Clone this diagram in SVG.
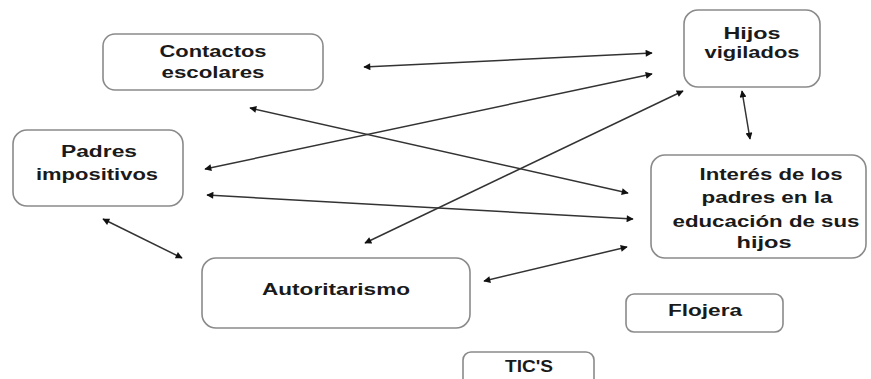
<svg xmlns="http://www.w3.org/2000/svg" width="871" height="379" viewBox="0 0 871 379">
<defs>
<style>
.box{fill:#fff;stroke:#8a8a8a;stroke-width:1.6}
.lbl{font-family:"Liberation Sans",Arial,sans-serif;font-weight:bold;font-size:16px;fill:#1a1a1a;text-anchor:middle}
.con{stroke:#333;stroke-width:1.5;fill:none;marker-start:url(#ah);marker-end:url(#ah)}
</style>
<marker id="ah" viewBox="0 0 10 10" refX="9" refY="5" markerWidth="8" markerHeight="7" markerUnits="userSpaceOnUse" orient="auto-start-reverse">
<path d="M0,0 L10,5 L0,10 z" fill="#111"/>
</marker>
</defs>
<rect width="871" height="379" fill="#fff"/>
<g id="connectors">
<line class="con" x1="364" y1="67" x2="652" y2="53"/>
<line class="con" x1="205" y1="169" x2="652" y2="74"/>
<line class="con" x1="250" y1="108" x2="628" y2="193"/>
<line class="con" x1="207" y1="195" x2="633" y2="219"/>
<line class="con" x1="742" y1="91" x2="750" y2="139"/>
<line class="con" x1="103" y1="219" x2="182" y2="258"/>
<line class="con" x1="365" y1="243" x2="683" y2="91"/>
<line class="con" x1="484" y1="281" x2="627" y2="247"/>
</g>
<g id="contactos">
<rect class="box" x="103" y="34" width="220" height="56" rx="12"/>
<text class="lbl" x="213" y="57" textLength="107" lengthAdjust="spacingAndGlyphs">Contactos</text>
<text class="lbl" x="213" y="78" textLength="103" lengthAdjust="spacingAndGlyphs">escolares</text>
</g>
<g id="hijos">
<rect class="box" x="684" y="10" width="136" height="77" rx="14"/>
<text class="lbl" x="752" y="39" textLength="57" lengthAdjust="spacingAndGlyphs">Hijos</text>
<text class="lbl" x="752" y="58" textLength="95" lengthAdjust="spacingAndGlyphs">vigilados</text>
</g>
<g id="padres">
<rect class="box" x="13" y="130" width="170" height="76" rx="14"/>
<text class="lbl" x="99" y="157" textLength="76" lengthAdjust="spacingAndGlyphs">Padres</text>
<text class="lbl" x="97" y="180" textLength="122" lengthAdjust="spacingAndGlyphs">impositivos</text>
</g>
<g id="interes">
<rect class="box" x="651" y="155" width="215" height="103" rx="14"/>
<text class="lbl" x="771" y="180" textLength="143" lengthAdjust="spacingAndGlyphs">Interés de los</text>
<text class="lbl" x="767" y="203" textLength="131" lengthAdjust="spacingAndGlyphs">padres en la</text>
<text class="lbl" x="766" y="227" textLength="187" lengthAdjust="spacingAndGlyphs">educación de sus</text>
<text class="lbl" x="764" y="248" textLength="55" lengthAdjust="spacingAndGlyphs">hijos</text>
</g>
<g id="autoritarismo">
<rect class="box" x="202" y="258" width="268" height="70" rx="14"/>
<text class="lbl" x="336" y="295" textLength="148" lengthAdjust="spacingAndGlyphs">Autoritarismo</text>
</g>
<g id="flojera">
<rect class="box" x="626" y="294" width="157" height="38" rx="8"/>
<text class="lbl" x="705" y="316" textLength="74" lengthAdjust="spacingAndGlyphs">Flojera</text>
</g>
<g id="tics">
<rect class="box" x="463" y="352" width="131" height="40" rx="8"/>
<text class="lbl" x="529" y="372" textLength="48" lengthAdjust="spacingAndGlyphs">TIC'S</text>
</g>
</svg>
